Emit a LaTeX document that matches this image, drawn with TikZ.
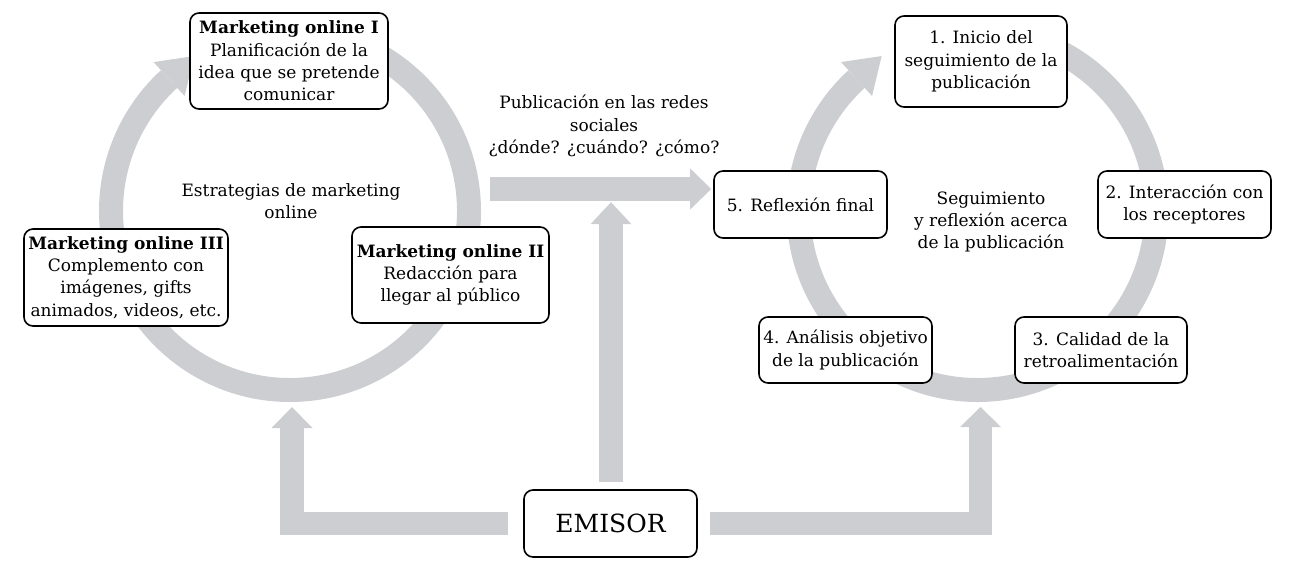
\documentclass[tikz,border=0pt]{standalone}
\usepackage{fontspec}
\setmainfont{DejaVu Serif}
\usetikzlibrary{calc}
\definecolor{ringgray}{RGB}{205,206,209}
\begin{document}
\begin{tikzpicture}[x=1pt,y=1pt,
  box/.style={draw=black, line width=1.6pt, rounded corners=9pt, fill=white,
    align=center, inner sep=0pt, font=\fontsize{17}{22.3}\selectfont},
  lbl/.style={align=center, inner sep=0pt, font=\fontsize{17}{22.3}\selectfont},
  ring/.style={draw=ringgray, line width=24pt},
  shaft/.style={draw=ringgray, line width=23.5pt, line join=miter},
  head/.style={fill=ringgray, draw=none}
]
\useasboundingbox (0,0) rectangle (1292,-562);

% ---- ring centres
\coordinate (c1) at (290,-211);
\coordinate (c2) at (977.5,-211);

% ---- rings
\draw[ring] ($(c1)+(95:179)$) arc[start angle=95, end angle=-227.5, radius=179];
\fill[head] ($(c1)+(132.5:202)$) -- ($(c1)+(132.5:156)$) -- ($(c1)+(132.5:179)+(42.5:34)$) -- cycle;
\draw[ring] ($(c2)+(95:179)$) arc[start angle=95, end angle=-227.5, radius=179];
\fill[head] ($(c2)+(132.5:202)$) -- ($(c2)+(132.5:156)$) -- ($(c2)+(132.5:179)+(42.5:34)$) -- cycle;

% ---- boxes
\node[box, minimum width=198pt, minimum height=96pt] (bI) at (289,-61)
  {\textbf{Marketing online I}\\Planificación de la\\idea que se pretende\\comunicar};
\node[box, minimum width=197pt, minimum height=96pt] (bII) at (450.5,-275)
  {\textbf{Marketing online II}\\Redacción para\\llegar al público};
\node[box, minimum width=204pt, minimum height=97pt] (bIII) at (126,-277.5)
  {\textbf{Marketing online III}\\Complemento con\\imágenes, gifts\\animados, videos, etc.};
\node[box, minimum width=173pt, minimum height=67pt, font=\fontsize{25}{30}\selectfont] (emisor) at (610.5,-523.5) {EMISOR};

\node[box, minimum width=172pt, minimum height=91pt] (b1) at (981,-61.5)
  {1. Inicio del\\seguimiento de la\\publicación};
\node[box, minimum width=173pt, minimum height=67pt] (b2) at (1184.5,-204.5)
  {2. Interacción con\\los receptores};
\node[box, minimum width=172pt, minimum height=66pt] (b3) at (1101,-350)
  {3. Calidad de la\\retroalimentación};
\node[box, minimum width=173pt, minimum height=66pt] (b4) at (845.5,-350)
  {4. Análisis objetivo\\de la publicación};
\node[box, minimum width=173pt, minimum height=67pt] (b5) at (800.5,-204.5)
  {5. Reflexión final};

% ---- labels
\node[lbl] (lEst) at (291,-201) {Estrategias de marketing\\online};
\node[lbl] (lPub) at (604,-126) {Publicación en las redes\\sociales\\¿dónde? ¿cuándo? ¿cómo?};
\node[lbl] (lSeg) at (991,-222) {Seguimiento\\y reflexión acerca\\de la publicación};

% ---- block arrows
\coordinate (h0) at (490,-189);
\coordinate (th) at ($(b5.west |- h0)+(-2,0)$);
\draw[shaft] (h0) -- ($(th)+(-21,0)$);
\fill[head] (th) -- ++(-21,20.5) -- ++(0,-41) -- cycle;

\coordinate (tv) at ($(emisor.north)+(0.5,287)$);
\draw[shaft, shorten <=7pt] (emisor.north -| tv) -- ($(tv)+(0,-22)$);
\fill[head] (tv) -- ++(-20.5,-22) -- ++(41,0) -- cycle;

\coordinate (tl) at (292,-407);
\draw[shaft, shorten <=15pt] (emisor.west) -| ($(tl)+(0,-21)$);
\fill[head] (tl) -- ++(-20.5,-21) -- ++(41,0) -- cycle;

\coordinate (tr) at (980.5,-407);
\draw[shaft, shorten <=12pt] (emisor.east) -| ($(tr)+(0,-20)$);
\fill[head] (tr) -- ++(-20.5,-20) -- ++(41,0) -- cycle;
\end{tikzpicture}
\end{document}
